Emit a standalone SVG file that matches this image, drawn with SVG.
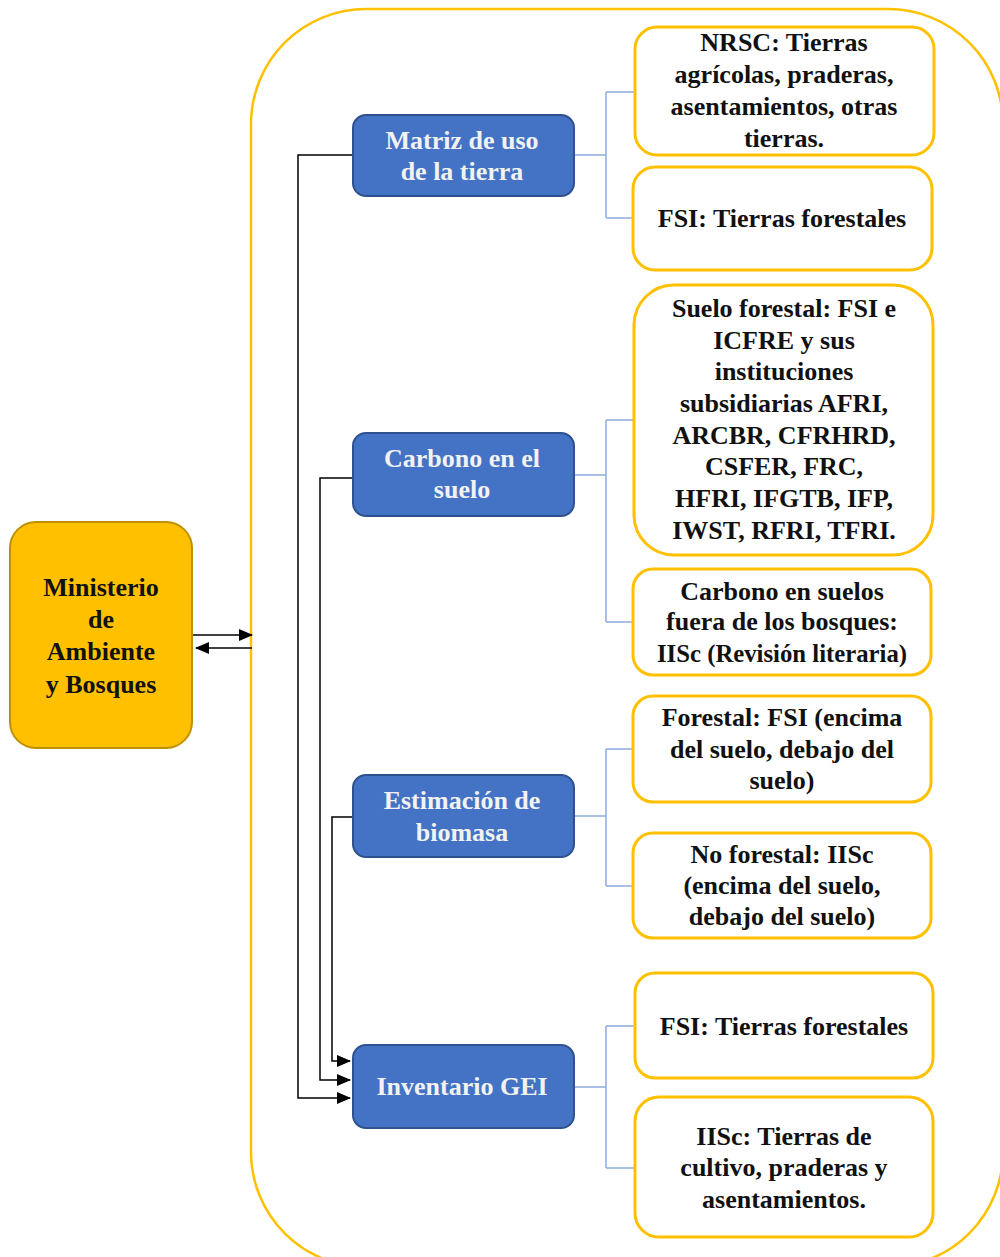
<svg xmlns="http://www.w3.org/2000/svg" width="1000" height="1257" viewBox="0 0 1000 1257">
<style>
.t{font-family:'Liberation Serif','DejaVu Serif',serif;font-weight:700;font-size:26px;text-anchor:middle;fill:#111}
.w{fill:#F2F2F2}
.blue{fill:#4472C4;stroke:#2F528F;stroke-width:2}
.yel{fill:#fff;stroke:#FFC000;stroke-width:3}
.bl{fill:none;stroke:#8FAADC;stroke-width:1.5}
.bk{fill:none;stroke:#000;stroke-width:1.5}
</style>
<defs>
<marker id="ah2" markerWidth="14" markerHeight="12" refX="13" refY="6" orient="auto" markerUnits="userSpaceOnUse" viewBox="0 0 14 12">
<path d="M0,0 L14,6 L0,12 z" fill="#000"/>
</marker>
</defs>
<rect width="1000" height="1257" fill="#fff"/>
<g id="container">
<rect x="251" y="9" width="752" height="1258" rx="115" ry="115" fill="none" stroke="#FFC000" stroke-width="2.5"/>
</g>
<g id="connectors">
<path class="bl" d="M574,155 H606 M606,92 V218 M606,92 H635 M606,218 H633"/>
<path class="bl" d="M574,475 H606 M606,420 V622 M606,420 H634 M606,622 H633"/>
<path class="bl" d="M574,816 H606 M606,749 V886 M606,749 H633 M606,886 H633"/>
<path class="bl" d="M574,1087 H606 M606,1026 V1168 M606,1026 H635 M606,1168 H635"/>
<path class="bk" d="M353,155 H298 V1098 H350" marker-end="url(#ah2)"/>
<path class="bk" d="M353,478 H320 V1080 H350" marker-end="url(#ah2)"/>
<path class="bk" d="M353,817 H332 V1061 H350" marker-end="url(#ah2)"/>
<path class="bk" d="M193,635 H252" marker-end="url(#ah2)"/>
<path class="bk" d="M252,648 H196" marker-end="url(#ah2)"/>
</g>
<g id="ministerio">
<rect x="10" y="522" width="182" height="226" rx="26" fill="#FFC000" stroke="#BF9000" stroke-width="2"/>
<text class="t" x="101" y="596">Ministerio</text>
<text class="t" x="101" y="628">de</text>
<text class="t" x="101" y="660">Ambiente</text>
<text class="t" x="101" y="693">y Bosques</text>
</g>
<g id="matriz">
<rect class="blue" x="353" y="115" width="221" height="81" rx="13"/>
<text class="t w" x="462" y="149">Matriz de uso</text>
<text class="t w" x="462" y="180">de la tierra</text>
</g>
<g id="carbono">
<rect class="blue" x="353" y="433" width="221" height="83" rx="13"/>
<text class="t w" x="462" y="467">Carbono en el</text>
<text class="t w" x="462" y="498">suelo</text>
</g>
<g id="estimacion">
<rect class="blue" x="353" y="775" width="221" height="82" rx="13"/>
<text class="t w" x="462" y="809">Estimación de</text>
<text class="t w" x="462" y="841">biomasa</text>
</g>
<g id="inventario">
<rect class="blue" x="353" y="1045" width="221" height="83" rx="13"/>
<text class="t w" x="462" y="1095">Inventario GEI</text>
</g>
<g id="nrsc">
<rect class="yel" x="635" y="27" width="299" height="128" rx="22"/>
<text class="t" x="784" y="51">NRSC: Tierras</text>
<text class="t" x="784" y="83">agrícolas,  praderas,</text>
<text class="t" x="784" y="115">asentamientos, otras</text>
<text class="t" x="784" y="147">tierras.</text>
</g>
<g id="fsi1">
<rect class="yel" x="633" y="167" width="299" height="103" rx="22"/>
<text class="t" x="782" y="227">FSI: Tierras forestales</text>
</g>
<g id="suelo-forestal">
<rect class="yel" x="634" y="285" width="299" height="270" rx="40"/>
<text class="t" x="784" y="317">Suelo forestal: FSI e</text>
<text class="t" x="784" y="349">ICFRE y sus</text>
<text class="t" x="784" y="380">instituciones</text>
<text class="t" x="784" y="412">subsidiarias AFRI,</text>
<text class="t" x="784" y="444">ARCBR, CFRHRD,</text>
<text class="t" x="784" y="475">CSFER, FRC,</text>
<text class="t" x="784" y="507">HFRI, IFGTB, IFP,</text>
<text class="t" x="784" y="539">IWST, RFRI, TFRI.</text>
</g>
<g id="carbono-fuera">
<rect class="yel" x="633" y="569" width="298" height="106" rx="20"/>
<text class="t" x="782" y="600">Carbono en suelos</text>
<text class="t" x="782" y="630">fuera de los bosques:</text>
<text class="t" x="782" y="662" textLength="250" lengthAdjust="spacingAndGlyphs">IISc (Revisión literaria)</text>
</g>
<g id="forestal">
<rect class="yel" x="633" y="696" width="298" height="106" rx="20"/>
<text class="t" x="782" y="726">Forestal: FSI (encima</text>
<text class="t" x="782" y="758">del suelo, debajo del</text>
<text class="t" x="782" y="789">suelo)</text>
</g>
<g id="no-forestal">
<rect class="yel" x="633" y="833" width="298" height="105" rx="20"/>
<text class="t" x="782" y="863">No forestal: IISc</text>
<text class="t" x="782" y="894">(encima del suelo,</text>
<text class="t" x="782" y="925">debajo del suelo)</text>
</g>
<g id="fsi2">
<rect class="yel" x="635" y="973" width="298" height="105" rx="20"/>
<text class="t" x="784" y="1035">FSI: Tierras forestales</text>
</g>
<g id="iisc">
<rect class="yel" x="635" y="1097" width="298" height="140" rx="24"/>
<text class="t" x="784" y="1145">IISc: Tierras de</text>
<text class="t" x="784" y="1176">cultivo, praderas y</text>
<text class="t" x="784" y="1208">asentamientos.</text>
</g>
</svg>
